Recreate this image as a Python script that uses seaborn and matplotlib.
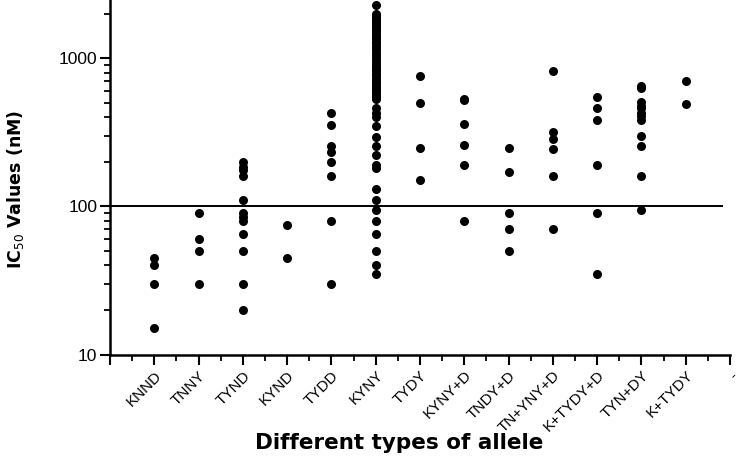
import matplotlib
matplotlib.use("Agg")
import matplotlib.pyplot as plt
import matplotlib.ticker as mticker
import seaborn as sns
import numpy as np
import pandas as pd

# IC50 values (nM) read per allele type
alleles = ["KNND", "TNNY", "TYND", "KYND", "TYDD", "KYNY", "TYDY",
           "KYNY+D", "TNDY+D", "TN+YNY+D", "K+TYDY+D", "TYN+DY", "K+TYDY"]

knnd = [45, 40, 30, 15]
tnny = [91, 60, 50, 30]
tynd = [200, 185, 175, 160, 110, 90, 85, 80, 65, 50, 30, 20]
kynd = [75, 45]
tydd = [425, 355, 255, 235, 200, 160, 80, 30]
kyny = [2300, 2000, 1950, 1900, 1850, 1800, 1750, 1700, 1650, 1600, 1550, 1500,
        1450, 1400, 1350, 1300, 1250, 1200, 1150, 1100, 1050, 1000, 960, 920,
        880, 850, 820, 790, 760, 730, 700, 680, 650, 630, 610, 590, 570, 550,
        530, 465, 430, 405, 350, 296, 255, 223, 191, 182, 131, 111, 95, 80,
        65, 50, 40, 35]
tydy = [760, 500, 250, 150]
kyny_d = [530, 520, 360, 260, 190, 80]
tndy_d = [250, 170, 90, 70, 50]
tn_yny_d = [820, 320, 285, 245, 160, 70]
k_tydy_d = [550, 460, 385, 190, 90, 35]
tyn_dy = [650, 630, 510, 480, 460, 430, 410, 385, 300, 255, 160, 95]
k_tydy = [700, 490]

groups = [knnd, tnny, tynd, kynd, tydd, kyny, tydy,
          kyny_d, tndy_d, tn_yny_d, k_tydy_d, tyn_dy, k_tydy]

df = pd.DataFrame({
    "allele": [a for a, g in zip(alleles, groups) for _ in g],
    "ic50": [v for g in groups for v in g],
})

sns.set_style("ticks")
plt.rcParams["font.family"] = ["Liberation Sans", "DejaVu Sans"]
plt.rcParams.update({"text.color": "black", "axes.labelcolor": "black",
                     "xtick.color": "black", "ytick.color": "black"})

fig = plt.figure(figsize=(7.4, 4.61), dpi=100)
ax = fig.add_axes([0.1486, 0.231, 0.838, 0.769])

sns.stripplot(data=df, x="allele", y="ic50", order=alleles, jitter=False,
              color="black", size=6.5, marker="o", linewidth=0, ax=ax)

ax.set_yscale("log")
ax.set_ylim(10, 2480)
ax.set_xlim(-1, 13)

# reference line at 100 nM
ax.hlines(100, -1, 12.85, color="black", linewidth=1.4)

ax.set_xticks(np.arange(-1, 14))
ax.set_xticklabels([""] + alleles + ["-"], rotation=45, ha="right",
                   rotation_mode="anchor", fontsize=11)
ax.xaxis.set_minor_locator(mticker.FixedLocator(np.arange(-0.5, 13, 1)))
ax.set_yticks([10, 100, 1000])
ax.set_yticklabels(["10", "100", "1000"], fontsize=12.5)
ax.yaxis.set_minor_locator(mticker.LogLocator(base=10, subs=np.arange(2, 10)))
ax.yaxis.set_minor_formatter(mticker.NullFormatter())

ax.tick_params(which="major", length=7, width=1.5, color="black", direction="out")
ax.tick_params(which="minor", length=4, width=1.3, color="black", direction="out")
ax.tick_params(axis="x", which="major", pad=3)
ax.tick_params(axis="y", which="major", pad=2)

for s in ["top", "right"]:
    ax.spines[s].set_visible(False)
for s in ["left", "bottom"]:
    ax.spines[s].set_color("black")
    ax.spines[s].set_linewidth(1.8)

ax.set_xlabel("Different types of allele", fontsize=15.5, fontweight="bold",
              family="DejaVu Sans", va="center")
ax.xaxis.set_label_coords(0.466, -0.25)
ax.set_ylabel("IC$_{50}$ Values (nM)", fontsize=12.5, fontweight="bold",
              family="DejaVu Sans", va="center")
ax.yaxis.set_label_coords(-0.153, 0.465)

fig.savefig("out.png", dpi=100)
